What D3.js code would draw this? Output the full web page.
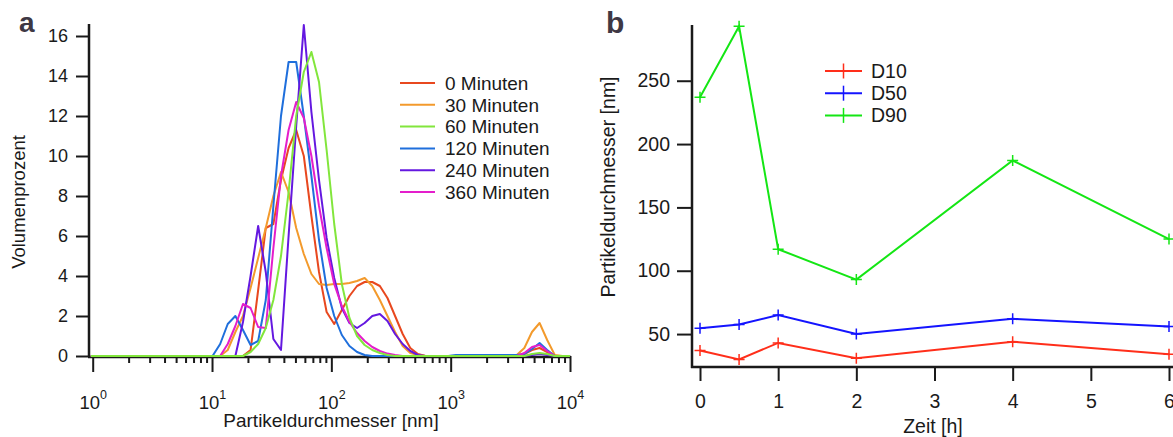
<!DOCTYPE html>
<html>
<head>
<meta charset="utf-8">
<script src="https://cdn.jsdelivr.net/npm/d3@7"></script>
<style>
  body { margin: 0; background: #fff; }
  svg { display: block; font-family: "Liberation Sans", Arial, sans-serif; }
</style>
</head>
<body>
<svg id="chart" width="1173" height="437"></svg>
<script>
// ---- panel a: size distributions (size bins in nm, volume %) ----
var sizeBins = [0.965, 1.117, 1.294, 1.499, 1.736, 2.01, 2.329, 2.698, 3.122, 3.615,
  4.187, 4.85, 5.615, 6.503, 7.531, 8.721, 10.1, 11.7, 13.54, 15.69,
  18.17, 21.04, 24.36, 28.21, 32.67, 37.84, 43.82, 50.75, 58.77, 68.06,
  78.82, 91.28, 105.7, 122.4, 141.8, 164.2, 190.1, 220.2, 255, 295.3,
  342, 396.1, 458.7, 531.2, 615.1, 712.4, 825, 955.4, 1106, 1281,
  1484, 1718, 1990, 2305, 2669, 3091, 3580, 4145, 4801, 5560,
  6439, 7456, 8635, 10000];

var seriesNames = ["0 Minuten", "30 Minuten", "60 Minuten", "120 Minuten", "240 Minuten", "360 Minuten"];
var seriesColors = ["#e8481f", "#f39a2c", "#82e63c", "#1f6fdc", "#6418e0", "#e41ecb"];

var vol0 = [0,0,0,0,0,0,0,0,0,0, 0,0,0,0,0,0,0,0,0,0,
  0,0.3,3.3,6.4,6.6,8.8,10.4,11.3,10.0,7.0,
  4.2,2.2,1.6,2.3,3.0,3.5,3.7,3.7,3.5,2.9,
  2.0,1.1,0.4,0.1,0,0,0,0,0,0,
  0,0,0,0,0,0,0,0.1,0.3,0.4,
  0.2,0,0,0];
var vol30 = [0,0,0,0,0,0,0,0,0,0, 0,0,0,0,0,0,0,0,0.3,1.2,
  2.0,3.4,4.9,6.4,8.0,9.2,8.2,6.4,5.1,4.1,
  3.6,3.55,3.6,3.6,3.65,3.75,3.9,3.5,2.8,2.0,
  1.2,0.5,0.15,0.05,0,0,0,0,0,0,
  0,0,0,0,0,0,0.05,0.4,1.2,1.65,
  0.8,0.05,0,0];
var vol60 = [0,0,0,0,0,0,0,0,0,0, 0,0,0,0,0,0,0,0,0,0,
  0,0.2,0.6,1.4,2.8,5.0,8.2,12.0,14.2,15.2,
  13.7,10.3,6.6,3.6,1.9,1.0,0.55,0.3,0.15,0.05,
  0,0,0,0,0,0,0,0,0,0,
  0,0,0,0,0,0,0,0,0.1,0.15,
  0.1,0,0,0];
var vol120 = [0,0,0,0,0,0,0,0,0,0, 0,0,0,0,0,0,0,0.6,1.6,2.0,
  1.3,0.55,0.75,2.8,7.5,12.0,14.7,14.7,12.0,9.0,
  5.8,3.4,2.0,1.05,0.5,0.2,0.05,0,0,0,
  0,0,0,0,0,0,0,0,0.05,0.05,
  0.05,0.05,0.05,0.05,0.05,0.05,0.05,0.1,0.35,0.65,
  0.3,0,0,0];
var vol240 = [0,0,0,0,0,0,0,0,0,0, 0,0,0,0,0,0,0,0,0,0,
  1.7,4.0,6.5,4.2,0.85,0.3,6.0,11.5,16.55,12.2,
  8.8,5.9,3.9,2.4,1.65,1.4,1.65,2.0,2.1,1.75,
  1.1,0.6,0.25,0.05,0,0,0,0,0,0,
  0,0,0,0,0,0,0,0,0.05,0.1,
  0.05,0,0,0];
var vol360 = [0,0,0,0,0,0,0,0,0,0, 0,0,0,0,0,0,0,0,0.6,1.5,
  2.6,2.4,1.45,1.4,5.4,9.0,11.3,12.7,11.9,10.0,
  7.5,5.4,3.6,2.5,1.7,1.15,0.75,0.45,0.25,0.12,
  0.05,0,0,0,0,0,0,0,0,0,
  0,0,0,0,0,0,0,0.15,0.45,0.55,
  0.25,0,0,0];
var seriesValues = [vol0, vol30, vol60, vol120, vol240, vol360];

var volTicks = [0, 2, 4, 6, 8, 10, 12, 14, 16];
var sizeTicks = [1, 10, 100, 1000, 10000];

// ---- panel b: D10 / D50 / D90 over time ----
var timeHours = [0, 0.5, 1, 2, 4, 6];
var d10 = [37, 30, 43, 31, 44, 34];
var d50 = [54.5, 57.5, 65, 50, 62, 56];
var d90 = [237, 293, 117, 93, 187, 125];
var dNames = ["D10", "D50", "D90"];
var dColors = ["#ff2e1a", "#1414ff", "#14e614"];
var dValues = [d10, d50, d90];
var diamTicks = [50, 100, 150, 200, 250];
var timeTicks = [0, 1, 2, 3, 4, 5, 6];

var svg = d3.select("#chart");
var ink = "#1a1a1a";

function styleAxis(g, fontSize) {
  g.selectAll(".tick line").attr("stroke", ink).attr("stroke-width", 2);
  g.selectAll(".tick text").attr("fill", ink).attr("font-size", fontSize)
    .attr("font-family", '"Liberation Sans", Arial, sans-serif');
  g.select(".domain").remove();
}

// ================= panel a =================
var xA = d3.scaleLog().domain([1, 10000]).range([92.7, 570]);
var yA = d3.scaleLinear().domain([0, 16.6]).range([356, 24]);

svg.append("defs").append("clipPath").attr("id", "clipA")
  .append("rect").attr("x", 89).attr("y", 0).attr("width", 482).attr("height", 358);

var yAxisA = svg.append("g").attr("transform", "translate(89,0)")
  .call(d3.axisLeft(yA).tickValues(volTicks).tickSize(13).tickPadding(8).tickFormat(d3.format("d")));
styleAxis(yAxisA, 18);

var minorA = [];
sizeTicks.slice(0, -1).forEach(function (dec) {
  for (var k = 2; k <= 9; k++) minorA.push(dec * k);
});
var xMinorA = svg.append("g").attr("transform", "translate(0,356)")
  .call(d3.axisBottom(xA).tickValues(minorA).tickSize(7).tickFormat(""));
styleAxis(xMinorA, 18);

var xAxisA = svg.append("g").attr("transform", "translate(0,356)")
  .call(d3.axisBottom(xA).tickValues(sizeTicks).tickSize(16));
styleAxis(xAxisA, 18.5);
xAxisA.selectAll(".tick text").each(function (d) {
  var t = d3.select(this);
  t.text(null).attr("y", 53).attr("dy", 0);
  t.append("tspan").text("10");
  t.append("tspan").attr("dy", -10).attr("font-size", 12.5).text(Math.round(Math.log10(d)));
});

svg.append("line").attr("x1", 89).attr("x2", 89).attr("y1", 24).attr("y2", 357)
  .attr("stroke", ink).attr("stroke-width", 2.5);
svg.append("line").attr("x1", 88).attr("x2", 571).attr("y1", 357).attr("y2", 357)
  .attr("stroke", ink).attr("stroke-width", 2.5);

var lineA = d3.line()
  .x(function (d, i) { return xA(sizeBins[i]); })
  .y(function (d) { return yA(d); });

var drawOrder = [0, 1, 3, 4, 5, 2];
var curves = svg.append("g").attr("clip-path", "url(#clipA)");
drawOrder.forEach(function (s) {
  curves.append("path")
    .datum(seriesValues[s])
    .attr("fill", "none")
    .attr("stroke", seriesColors[s])
    .attr("stroke-width", 2)
    .attr("stroke-linejoin", "round")
    .attr("d", lineA);
});

var legA = svg.append("g").attr("transform", "translate(400,83)");
seriesNames.forEach(function (name, i) {
  var row = legA.append("g").attr("transform", "translate(0," + (i * 21.8) + ")");
  row.append("line").attr("x1", 0).attr("x2", 35).attr("y1", 0).attr("y2", 0)
    .attr("stroke", seriesColors[i]).attr("stroke-width", 2);
  row.append("text").attr("x", 45).attr("dy", "0.36em").attr("font-size", 19)
    .attr("fill", ink).text(name);
});

svg.append("text").attr("x", 331).attr("y", 427).attr("text-anchor", "middle")
  .attr("font-size", 19).attr("fill", ink).text("Partikeldurchmesser [nm]");
svg.append("text").attr("transform", "translate(25,202) rotate(-90)")
  .attr("text-anchor", "middle").attr("font-size", 18.5).attr("fill", ink).text("Volumenprozent");
svg.append("text").attr("x", 19).attr("y", 32).attr("font-size", 28).attr("font-weight", "bold")
  .attr("fill", "#3e3844").text("a");

// ================= panel b =================
var xB = d3.scaleLinear().domain([0, 6]).range([700, 1169]);
var yB = d3.scaleLinear().domain([24, 294]).range([367, 25]);

var yAxisB = svg.append("g").attr("transform", "translate(692,0)")
  .call(d3.axisLeft(yB).tickValues(diamTicks).tickSize(15).tickPadding(7));
styleAxis(yAxisB, 19.5);

var xAxisB = svg.append("g").attr("transform", "translate(0,367)")
  .call(d3.axisBottom(xB).tickValues(timeTicks).tickSize(14).tickPadding(13).tickFormat(d3.format("d")));
styleAxis(xAxisB, 19.5);

svg.append("line").attr("x1", 692).attr("x2", 692).attr("y1", 25).attr("y2", 368)
  .attr("stroke", ink).attr("stroke-width", 2.5);
svg.append("line").attr("x1", 691).attr("x2", 1173).attr("y1", 367).attr("y2", 367)
  .attr("stroke", ink).attr("stroke-width", 2.5);

var lineB = d3.line()
  .x(function (d, i) { return xB(timeHours[i]); })
  .y(function (d) { return yB(d); });

dValues.forEach(function (vals, s) {
  var g = svg.append("g");
  g.append("path").datum(vals).attr("fill", "none")
    .attr("stroke", dColors[s]).attr("stroke-width", 2).attr("d", lineB);
  g.selectAll("path.mk").data(vals).enter().append("path")
    .attr("class", "mk")
    .attr("transform", function (d, i) { return "translate(" + xB(timeHours[i]) + "," + yB(d) + ")"; })
    .attr("d", "M-5.5,0H5.5M0,-5.5V5.5")
    .attr("stroke", dColors[s]).attr("stroke-width", 1.5);
});

var legB = svg.append("g").attr("transform", "translate(825,71)");
dNames.forEach(function (name, i) {
  var row = legB.append("g").attr("transform", "translate(0," + (i * 22.2) + ")");
  row.append("line").attr("x1", 0).attr("x2", 37).attr("y1", 0).attr("y2", 0)
    .attr("stroke", dColors[i]).attr("stroke-width", 2);
  row.append("line").attr("x1", 18.5).attr("x2", 18.5).attr("y1", -7.5).attr("y2", 7.5)
    .attr("stroke", dColors[i]).attr("stroke-width", 1.5);
  row.append("text").attr("x", 46).attr("dy", "0.36em").attr("font-size", 19.5)
    .attr("fill", ink).text(name);
});

svg.append("text").attr("x", 933).attr("y", 433).attr("text-anchor", "middle")
  .attr("font-size", 19.5).attr("fill", ink).text("Zeit [h]");
svg.append("text").attr("transform", "translate(615,187) rotate(-90)")
  .attr("text-anchor", "middle").attr("font-size", 19.5).attr("fill", ink).text("Partikeldurchmesser [nm]");
svg.append("text").attr("x", 606).attr("y", 33).attr("font-size", 30).attr("font-weight", "bold")
  .attr("fill", "#3e3844").text("b");
</script>
</body>
</html>
